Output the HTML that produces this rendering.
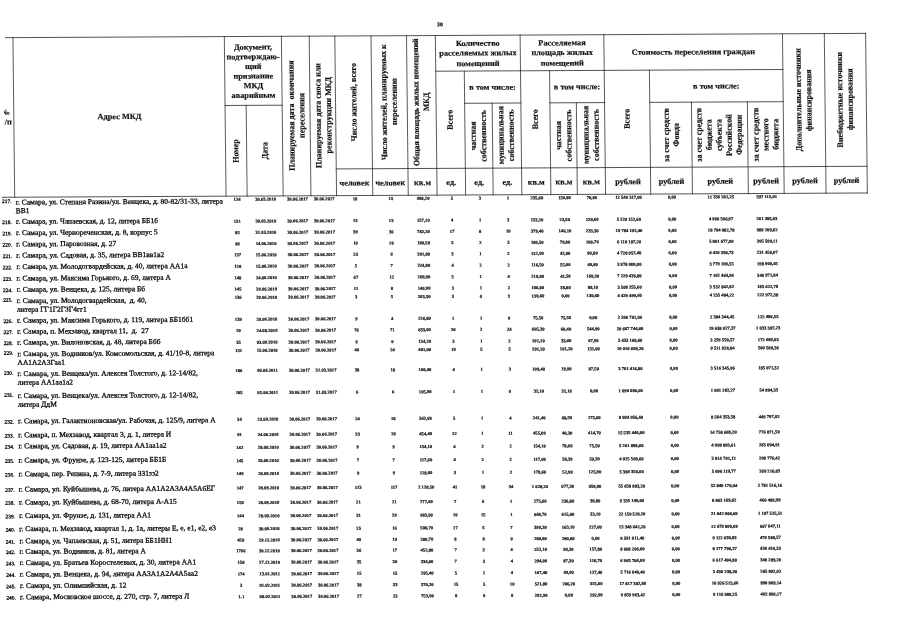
<!DOCTYPE html>
<html lang="ru"><head><meta charset="utf-8"><title>Таблица</title>
<style>
html,body{margin:0;padding:0;background:#fff;}
body{width:905px;height:640px;overflow:hidden;position:relative;font-family:"Liberation Serif",serif;color:#111;}
#pg{position:absolute;left:0;top:0;width:905px;height:640px;transform-origin:0 0;transform:matrix(1,-0.005,0.0105,0.965,0,0);filter:grayscale(1);}
#pg div{position:absolute;left:0;top:0;}
.ln{}
.hc{display:flex;align-items:center;justify-content:center;text-align:center;font-weight:bold;font-size:8.3px;line-height:9.95px;white-space:nowrap;-webkit-text-stroke:0.2px #111;}
#pg .rt{position:static;writing-mode:vertical-rl;transform:rotate(180deg);line-height:10.3px;text-align:center;white-space:nowrap;}
.np{overflow:hidden;}
#pg .npi{transform:translate(-6.3px,7.1px);width:16px;text-align:center;font-weight:bold;font-size:8.3px;line-height:10.2px;-webkit-text-stroke:0.15px #111;}
.pg{font-size:5.8px;line-height:6px;text-align:center;font-weight:bold;-webkit-text-stroke:0.25px #0a0a0a;}
.ad{font-size:7.5px;line-height:9.482px;white-space:nowrap;-webkit-text-stroke:0.3px #0a0a0a;}
.lb{font-size:5.4px;line-height:6.5px;width:10px;text-align:center;white-space:nowrap;-webkit-text-stroke:0.3px #0a0a0a;}
.nm{font-size:4.65px;line-height:6.0px;text-align:center;white-space:nowrap;font-weight:bold;-webkit-text-stroke:0.2px #0a0a0a;}
</style></head>
<body>
<div id="pg">
<svg width="905" height="700" viewBox="0 0 905 700" style="position:absolute;left:0;top:0;overflow:visible" stroke="#151515" stroke-linecap="square" fill="none">
<line x1="5.00" y1="39.07" x2="865.20" y2="39.07" stroke-width="0.746"/>
<line x1="0.20" y1="204.46" x2="865.20" y2="204.46" stroke-width="0.746"/>
<line x1="434.95" y1="76.06" x2="782.05" y2="76.06" stroke-width="0.746"/>
<line x1="463.50" y1="109.43" x2="519.70" y2="109.43" stroke-width="0.746"/>
<line x1="548.75" y1="109.43" x2="603.40" y2="109.43" stroke-width="0.746"/>
<line x1="648.60" y1="109.43" x2="782.05" y2="109.43" stroke-width="0.746"/>
<line x1="223.90" y1="110.47" x2="281.00" y2="110.47" stroke-width="0.746"/>
<line x1="334.40" y1="176.79" x2="865.20" y2="176.79" stroke-width="0.746"/>
<line x1="12.55" y1="39.07" x2="12.55" y2="204.46" stroke-width="0.720"/>
<line x1="223.90" y1="39.07" x2="223.90" y2="204.46" stroke-width="0.720"/>
<line x1="281.00" y1="39.07" x2="281.00" y2="204.46" stroke-width="0.720"/>
<line x1="308.80" y1="39.07" x2="308.80" y2="204.46" stroke-width="0.720"/>
<line x1="334.40" y1="39.07" x2="334.40" y2="204.46" stroke-width="0.720"/>
<line x1="370.60" y1="39.07" x2="370.60" y2="204.46" stroke-width="0.720"/>
<line x1="406.10" y1="39.07" x2="406.10" y2="204.46" stroke-width="0.720"/>
<line x1="434.95" y1="39.07" x2="434.95" y2="204.46" stroke-width="0.720"/>
<line x1="519.70" y1="39.07" x2="519.70" y2="204.46" stroke-width="0.720"/>
<line x1="603.40" y1="39.07" x2="603.40" y2="204.46" stroke-width="0.720"/>
<line x1="782.05" y1="39.07" x2="782.05" y2="204.46" stroke-width="0.720"/>
<line x1="823.90" y1="39.07" x2="823.90" y2="204.46" stroke-width="0.720"/>
<line x1="865.20" y1="39.07" x2="865.20" y2="204.46" stroke-width="0.720"/>
<line x1="245.00" y1="110.47" x2="245.00" y2="204.46" stroke-width="0.720"/>
<line x1="463.50" y1="76.06" x2="463.50" y2="204.46" stroke-width="0.720"/>
<line x1="548.75" y1="76.06" x2="548.75" y2="204.46" stroke-width="0.720"/>
<line x1="648.60" y1="76.06" x2="648.60" y2="204.46" stroke-width="0.720"/>
<line x1="491.00" y1="109.43" x2="491.00" y2="204.46" stroke-width="0.720"/>
<line x1="575.20" y1="109.43" x2="575.20" y2="204.46" stroke-width="0.720"/>
<line x1="690.30" y1="109.43" x2="690.30" y2="204.46" stroke-width="0.720"/>
<line x1="746.20" y1="109.43" x2="746.20" y2="204.46" stroke-width="0.720"/>
</svg>
<div class="np" style="transform:translate(2.75px,105px);width:9.5px;height:32px"><div class="npi">№<br>п/п</div></div>
<div class="hc" style="transform:translate(12.55px,39.07px);width:211.35px;height:165.39px;">Адрес МКД</div>
<div class="hc" style="transform:translate(223.90px,39.77px);width:57.10px;height:71.40px;line-height:9.97px;">Документ,<br>подтверждаю-<br>щий<br>признание<br>МКД<br>аварийным</div>
<div class="hc" style="transform:translate(224.70px,110.47px);width:21.10px;height:93.99px;"><div class="rt">Номер</div></div>
<div class="hc" style="transform:translate(245.80px,110.47px);width:36.00px;height:93.99px;"><div class="rt">Дата</div></div>
<div class="hc" style="transform:translate(281.80px,39.07px);width:27.80px;height:165.39px;"><div class="rt">Планируемая дата&nbsp; окончания<br>переселения</div></div>
<div class="hc" style="transform:translate(309.60px,39.07px);width:25.60px;height:165.39px;"><div class="rt">Планируемая дата сноса или<br>реконструкции МКД</div></div>
<div class="hc" style="transform:translate(335.20px,39.07px);width:36.20px;height:137.72px;"><div class="rt">Число жителей, всего</div></div>
<div class="hc" style="transform:translate(371.40px,39.07px);width:35.50px;height:137.72px;"><div class="rt">Число жителей, планируемых к<br>переселению</div></div>
<div class="hc" style="transform:translate(406.50px,39.07px);width:28.85px;height:137.72px;"><div class="rt" style="font-size:8.15px;">Общая площадь жилых помещений<br>МКД</div></div>
<div class="hc" style="transform:translate(434.95px,39.97px);width:84.75px;height:36.99px;line-height:10.16px;">Количество<br>расселяемых жилых<br>помещений</div>
<div class="hc" style="transform:translate(519.70px,39.97px);width:83.70px;height:36.99px;line-height:10.16px;">Расселяемая<br>площадь жилых<br>помещений</div>
<div class="hc" style="transform:translate(603.40px,39.07px);width:178.65px;height:36.99px;">Стоимость переселения граждан</div>
<div class="hc" style="transform:translate(435.35px,76.06px);width:28.55px;height:100.73px;"><div class="rt">Всего</div></div>
<div class="hc" style="transform:translate(463.50px,76.56px);width:56.20px;height:33.37px;">в том числе:</div>
<div class="hc" style="transform:translate(464.30px,109.43px);width:27.50px;height:67.36px;"><div class="rt">частная<br>собственность</div></div>
<div class="hc" style="transform:translate(491.00px,109.43px);width:28.70px;height:67.36px;"><div class="rt">муниципальная<br>собственность</div></div>
<div class="hc" style="transform:translate(520.50px,76.06px);width:29.05px;height:100.73px;"><div class="rt">Всего</div></div>
<div class="hc" style="transform:translate(548.75px,76.56px);width:54.65px;height:33.37px;">в том числе:</div>
<div class="hc" style="transform:translate(549.55px,109.43px);width:26.45px;height:67.36px;"><div class="rt">частная<br>собственность</div></div>
<div class="hc" style="transform:translate(576.00px,109.43px);width:28.20px;height:67.36px;"><div class="rt">муниципальная<br>собственность</div></div>
<div class="hc" style="transform:translate(604.20px,76.06px);width:45.20px;height:100.73px;"><div class="rt">Всего</div></div>
<div class="hc" style="transform:translate(648.60px,76.56px);width:133.45px;height:33.37px;">в том числе:</div>
<div class="hc" style="transform:translate(649.40px,109.43px);width:41.70px;height:67.36px;"><div class="rt" style="line-height:10.0px;">за счет средств<br>Фонда</div></div>
<div class="hc" style="transform:translate(690.10px,109.43px);width:55.90px;height:67.36px;"><div class="rt" style="line-height:10.05px;">за счет средств<br>бюджета<br>субъекта<br>Российской<br>Федерации</div></div>
<div class="hc" style="transform:translate(747.00px,109.43px);width:35.85px;height:67.36px;"><div class="rt" style="line-height:9.9px;">за счет средств<br>местного<br>бюджета</div></div>
<div class="hc" style="transform:translate(781.95px,39.07px);width:41.85px;height:137.72px;"><div class="rt">Дополнительные источники<br>финансирования</div></div>
<div class="hc" style="transform:translate(824.30px,39.07px);width:41.30px;height:137.72px;"><div class="rt">Внебюджетные источники<br>финансирования</div></div>
<div class="hc" style="transform:translate(334.40px,178.13px);width:36.20px;height:27.67px;">человек</div>
<div class="hc" style="transform:translate(370.60px,178.13px);width:35.50px;height:27.67px;">человек</div>
<div class="hc" style="transform:translate(406.10px,178.13px);width:28.85px;height:27.67px;">кв.м</div>
<div class="hc" style="transform:translate(434.95px,178.13px);width:28.55px;height:27.67px;">ед.</div>
<div class="hc" style="transform:translate(463.50px,178.13px);width:27.50px;height:27.67px;">ед.</div>
<div class="hc" style="transform:translate(491.00px,178.13px);width:28.70px;height:27.67px;">ед.</div>
<div class="hc" style="transform:translate(519.70px,178.13px);width:29.05px;height:27.67px;">кв.м</div>
<div class="hc" style="transform:translate(548.75px,178.13px);width:26.45px;height:27.67px;">кв.м</div>
<div class="hc" style="transform:translate(575.20px,178.13px);width:28.20px;height:27.67px;">кв.м</div>
<div class="hc" style="transform:translate(603.40px,178.13px);width:45.20px;height:27.67px;">рублей</div>
<div class="hc" style="transform:translate(648.60px,178.13px);width:41.70px;height:27.67px;">рублей</div>
<div class="hc" style="transform:translate(690.30px,178.13px);width:55.90px;height:27.67px;">рублей</div>
<div class="hc" style="transform:translate(746.20px,178.13px);width:35.85px;height:27.67px;">рублей</div>
<div class="hc" style="transform:translate(782.05px,178.13px);width:41.85px;height:27.67px;">рублей</div>
<div class="hc" style="transform:translate(823.90px,178.13px);width:41.30px;height:27.67px;">рублей</div>
<div class="pg" style="transform:translate(433.6px,24.46px);width:12px">30</div>
<div class="ad" style="transform:translate(13.5px,204.93px)">г. Самара, ул. Степана Разина/ул. Венцека, д. 80-82/31-33, литера<br>ВВ1</div>
<div class="lb" style="transform:translate(-0.4px,205.48px)">217.</div>
<div class="nm" style="transform:translate(224.30px,205.25px);width:21.10px">124</div>
<div class="nm" style="transform:translate(245.40px,205.25px);width:36.00px">30.03.2010</div>
<div class="nm" style="transform:translate(281.40px,205.25px);width:27.80px">30.06.2017</div>
<div class="nm" style="transform:translate(309.20px,205.25px);width:25.60px">30.06.2017</div>
<div class="nm" style="transform:translate(334.80px,205.25px);width:36.20px">18</div>
<div class="nm" style="transform:translate(371.00px,205.25px);width:35.50px">15</div>
<div class="nm" style="transform:translate(406.50px,205.25px);width:28.85px">498,10</div>
<div class="nm" style="transform:translate(435.35px,205.25px);width:28.55px">5</div>
<div class="nm" style="transform:translate(463.90px,205.25px);width:27.50px">3</div>
<div class="nm" style="transform:translate(491.40px,205.25px);width:28.70px">1</div>
<div class="nm" style="transform:translate(520.10px,205.25px);width:29.05px">235,60</div>
<div class="nm" style="transform:translate(549.15px,205.25px);width:26.45px">156,80</div>
<div class="nm" style="transform:translate(575.60px,205.25px);width:28.20px">78,80</div>
<div class="nm" style="transform:translate(603.80px,205.25px);width:45.20px">12 549 317,00</div>
<div class="nm" style="transform:translate(649.00px,205.25px);width:41.70px">0,00</div>
<div class="nm" style="transform:translate(690.70px,205.25px);width:55.90px">11 336 201,25</div>
<div class="nm" style="transform:translate(746.60px,205.25px);width:35.85px">597 115,01</div>
<div class="ad" style="transform:translate(13.5px,224.93px)">г. Самара, ул. Чапаевская, д. 12, литера ББ1б</div>
<div class="lb" style="transform:translate(-0.4px,227.13px)">218.</div>
<div class="nm" style="transform:translate(224.30px,227.94px);width:21.10px">131</div>
<div class="nm" style="transform:translate(245.40px,227.94px);width:36.00px">30.03.2010</div>
<div class="nm" style="transform:translate(281.40px,227.94px);width:27.80px">30.06.2017</div>
<div class="nm" style="transform:translate(309.20px,227.94px);width:25.60px">30.06.2017</div>
<div class="nm" style="transform:translate(334.80px,227.94px);width:36.20px">13</div>
<div class="nm" style="transform:translate(371.00px,227.94px);width:35.50px">13</div>
<div class="nm" style="transform:translate(406.50px,227.94px);width:28.85px">157,10</div>
<div class="nm" style="transform:translate(435.35px,227.94px);width:28.55px">4</div>
<div class="nm" style="transform:translate(463.90px,227.94px);width:27.50px">1</div>
<div class="nm" style="transform:translate(491.40px,227.94px);width:28.70px">3</div>
<div class="nm" style="transform:translate(520.10px,227.94px);width:29.05px">153,10</div>
<div class="nm" style="transform:translate(549.15px,227.94px);width:26.45px">23,50</div>
<div class="nm" style="transform:translate(575.60px,227.94px);width:28.20px">129,60</div>
<div class="nm" style="transform:translate(603.80px,227.94px);width:45.20px">5 229 152,60</div>
<div class="nm" style="transform:translate(649.00px,227.94px);width:41.70px">0,00</div>
<div class="nm" style="transform:translate(690.70px,227.94px);width:55.90px">4 966 566,97</div>
<div class="nm" style="transform:translate(746.60px,227.94px);width:35.85px">261 385,63</div>
<div class="ad" style="transform:translate(13.5px,236.64px)">г. Самара, ул. Чернореченская, д. 8, корпус 5</div>
<div class="lb" style="transform:translate(-0.4px,238.84px)">219.</div>
<div class="nm" style="transform:translate(224.30px,239.65px);width:21.10px">85</div>
<div class="nm" style="transform:translate(245.40px,239.65px);width:36.00px">31.03.2010</div>
<div class="nm" style="transform:translate(281.40px,239.65px);width:27.80px">30.06.2017</div>
<div class="nm" style="transform:translate(309.20px,239.65px);width:25.60px">30.06.2017</div>
<div class="nm" style="transform:translate(334.80px,239.65px);width:36.20px">39</div>
<div class="nm" style="transform:translate(371.00px,239.65px);width:35.50px">36</div>
<div class="nm" style="transform:translate(406.50px,239.65px);width:28.85px">782,20</div>
<div class="nm" style="transform:translate(435.35px,239.65px);width:28.55px">17</div>
<div class="nm" style="transform:translate(463.90px,239.65px);width:27.50px">8</div>
<div class="nm" style="transform:translate(491.40px,239.65px);width:28.70px">10</div>
<div class="nm" style="transform:translate(520.10px,239.65px);width:29.05px">379,40</div>
<div class="nm" style="transform:translate(549.15px,239.65px);width:26.45px">146,10</div>
<div class="nm" style="transform:translate(575.60px,239.65px);width:28.20px">233,30</div>
<div class="nm" style="transform:translate(603.80px,239.65px);width:45.20px">19 784 192,40</div>
<div class="nm" style="transform:translate(649.00px,239.65px);width:41.70px">0,00</div>
<div class="nm" style="transform:translate(690.70px,239.65px);width:55.90px">18 794 982,78</div>
<div class="nm" style="transform:translate(746.60px,239.65px);width:35.85px">989 209,62</div>
<div class="ad" style="transform:translate(13.5px,248.35px)">г. Самара, ул. Паровозная, д. 27</div>
<div class="lb" style="transform:translate(-0.4px,250.55px)">220.</div>
<div class="nm" style="transform:translate(224.30px,251.26px);width:21.10px">86</div>
<div class="nm" style="transform:translate(245.40px,251.26px);width:36.00px">14.06.2010</div>
<div class="nm" style="transform:translate(281.40px,251.26px);width:27.80px">30.06.2017</div>
<div class="nm" style="transform:translate(309.20px,251.26px);width:25.60px">30.06.2017</div>
<div class="nm" style="transform:translate(334.80px,251.26px);width:36.20px">10</div>
<div class="nm" style="transform:translate(371.00px,251.26px);width:35.50px">10</div>
<div class="nm" style="transform:translate(406.50px,251.26px);width:28.85px">180,50</div>
<div class="nm" style="transform:translate(435.35px,251.26px);width:28.55px">5</div>
<div class="nm" style="transform:translate(463.90px,251.26px);width:27.50px">2</div>
<div class="nm" style="transform:translate(491.40px,251.26px);width:28.70px">3</div>
<div class="nm" style="transform:translate(520.10px,251.26px);width:29.05px">180,50</div>
<div class="nm" style="transform:translate(549.15px,251.26px);width:26.45px">70,80</div>
<div class="nm" style="transform:translate(575.60px,251.26px);width:28.20px">109,70</div>
<div class="nm" style="transform:translate(603.80px,251.26px);width:45.20px">6 110 187,20</div>
<div class="nm" style="transform:translate(649.00px,251.26px);width:41.70px">0,00</div>
<div class="nm" style="transform:translate(690.70px,251.26px);width:55.90px">5 801 677,09</div>
<div class="nm" style="transform:translate(746.60px,251.26px);width:35.85px">305 509,11</div>
<div class="ad" style="transform:translate(13.5px,260.06px)">г. Самара, ул. Садовая, д. 35, литера ВВ1вв1в2</div>
<div class="lb" style="transform:translate(-0.4px,262.26px)">221.</div>
<div class="nm" style="transform:translate(224.30px,262.87px);width:21.10px">137</div>
<div class="nm" style="transform:translate(245.40px,262.87px);width:36.00px">15.06.2010</div>
<div class="nm" style="transform:translate(281.40px,262.87px);width:27.80px">30.06.2017</div>
<div class="nm" style="transform:translate(309.20px,262.87px);width:25.60px">30.06.2017</div>
<div class="nm" style="transform:translate(334.80px,262.87px);width:36.20px">23</div>
<div class="nm" style="transform:translate(371.00px,262.87px);width:35.50px">6</div>
<div class="nm" style="transform:translate(406.50px,262.87px);width:28.85px">301,80</div>
<div class="nm" style="transform:translate(435.35px,262.87px);width:28.55px">3</div>
<div class="nm" style="transform:translate(463.90px,262.87px);width:27.50px">1</div>
<div class="nm" style="transform:translate(491.40px,262.87px);width:28.70px">2</div>
<div class="nm" style="transform:translate(520.10px,262.87px);width:29.05px">131,90</div>
<div class="nm" style="transform:translate(549.15px,262.87px);width:26.45px">42,00</div>
<div class="nm" style="transform:translate(575.60px,262.87px);width:28.20px">90,80</div>
<div class="nm" style="transform:translate(603.80px,262.87px);width:45.20px">4 728 957,40</div>
<div class="nm" style="transform:translate(649.00px,262.87px);width:41.70px">0,00</div>
<div class="nm" style="transform:translate(690.70px,262.87px);width:55.90px">4 410 396,73</div>
<div class="nm" style="transform:translate(746.60px,262.87px);width:35.85px">231 456,07</div>
<div class="ad" style="transform:translate(13.5px,271.77px)">г. Самара, ул. Молодогвардейская, д. 40, литера АА1а</div>
<div class="lb" style="transform:translate(-0.4px,273.97px)">222.</div>
<div class="nm" style="transform:translate(224.30px,274.68px);width:21.10px">128</div>
<div class="nm" style="transform:translate(245.40px,274.68px);width:36.00px">15.06.2010</div>
<div class="nm" style="transform:translate(281.40px,274.68px);width:27.80px">30.06.2017</div>
<div class="nm" style="transform:translate(309.20px,274.68px);width:25.60px">30.06.2017</div>
<div class="nm" style="transform:translate(334.80px,274.68px);width:36.20px">5</div>
<div class="nm" style="transform:translate(371.00px,274.68px);width:35.50px">7</div>
<div class="nm" style="transform:translate(406.50px,274.68px);width:28.85px">224,80</div>
<div class="nm" style="transform:translate(435.35px,274.68px);width:28.55px">4</div>
<div class="nm" style="transform:translate(463.90px,274.68px);width:27.50px">2</div>
<div class="nm" style="transform:translate(491.40px,274.68px);width:28.70px">2</div>
<div class="nm" style="transform:translate(520.10px,274.68px);width:29.05px">116,50</div>
<div class="nm" style="transform:translate(549.15px,274.68px);width:26.45px">55,00</div>
<div class="nm" style="transform:translate(575.60px,274.68px);width:28.20px">60,80</div>
<div class="nm" style="transform:translate(603.80px,274.68px);width:45.20px">3 978 009,00</div>
<div class="nm" style="transform:translate(649.00px,274.68px);width:41.70px">0,00</div>
<div class="nm" style="transform:translate(690.70px,274.68px);width:55.90px">3 779 108,55</div>
<div class="nm" style="transform:translate(746.60px,274.68px);width:35.85px">198 900,45</div>
<div class="ad" style="transform:translate(13.5px,283.79px)">г. Самара, ул. Максима Горького, д. 69, литера А</div>
<div class="lb" style="transform:translate(-0.4px,285.99px)">223.</div>
<div class="nm" style="transform:translate(224.30px,286.60px);width:21.10px">148</div>
<div class="nm" style="transform:translate(245.40px,286.60px);width:36.00px">24.06.2010</div>
<div class="nm" style="transform:translate(281.40px,286.60px);width:27.80px">30.06.2017</div>
<div class="nm" style="transform:translate(309.20px,286.60px);width:25.60px">30.06.2017</div>
<div class="nm" style="transform:translate(334.80px,286.60px);width:36.20px">67</div>
<div class="nm" style="transform:translate(371.00px,286.60px);width:35.50px">12</div>
<div class="nm" style="transform:translate(406.50px,286.60px);width:28.85px">209,90</div>
<div class="nm" style="transform:translate(435.35px,286.60px);width:28.55px">5</div>
<div class="nm" style="transform:translate(463.90px,286.60px);width:27.50px">1</div>
<div class="nm" style="transform:translate(491.40px,286.60px);width:28.70px">4</div>
<div class="nm" style="transform:translate(520.10px,286.60px);width:29.05px">210,80</div>
<div class="nm" style="transform:translate(549.15px,286.60px);width:26.45px">41,50</div>
<div class="nm" style="transform:translate(575.60px,286.60px);width:28.20px">169,30</div>
<div class="nm" style="transform:translate(603.80px,286.60px);width:45.20px">7 229 436,80</div>
<div class="nm" style="transform:translate(649.00px,286.60px);width:41.70px">0,00</div>
<div class="nm" style="transform:translate(690.70px,286.60px);width:55.90px">7 162 464,96</div>
<div class="nm" style="transform:translate(746.60px,286.60px);width:35.85px">346 971,84</div>
<div class="ad" style="transform:translate(13.5px,295.40px)">г. Самара, ул. Венцека, д. 125, литера Бб</div>
<div class="lb" style="transform:translate(-0.4px,297.60px)">224.</div>
<div class="nm" style="transform:translate(224.30px,298.31px);width:21.10px">145</div>
<div class="nm" style="transform:translate(245.40px,298.31px);width:36.00px">29.06.2010</div>
<div class="nm" style="transform:translate(281.40px,298.31px);width:27.80px">30.06.2017</div>
<div class="nm" style="transform:translate(309.20px,298.31px);width:25.60px">30.06.2017</div>
<div class="nm" style="transform:translate(334.80px,298.31px);width:36.20px">11</div>
<div class="nm" style="transform:translate(371.00px,298.31px);width:35.50px">8</div>
<div class="nm" style="transform:translate(406.50px,298.31px);width:28.85px">140,90</div>
<div class="nm" style="transform:translate(435.35px,298.31px);width:28.55px">3</div>
<div class="nm" style="transform:translate(463.90px,298.31px);width:27.50px">1</div>
<div class="nm" style="transform:translate(491.40px,298.31px);width:28.70px">2</div>
<div class="nm" style="transform:translate(520.10px,298.31px);width:29.05px">106,60</div>
<div class="nm" style="transform:translate(549.15px,298.31px);width:26.45px">30,80</div>
<div class="nm" style="transform:translate(575.60px,298.31px);width:28.20px">89,10</div>
<div class="nm" style="transform:translate(603.80px,298.31px);width:45.20px">3 508 255,60</div>
<div class="nm" style="transform:translate(649.00px,298.31px);width:41.70px">0,00</div>
<div class="nm" style="transform:translate(690.70px,298.31px);width:55.90px">3 332 842,82</div>
<div class="nm" style="transform:translate(746.60px,298.31px);width:35.85px">185 412,78</div>
<div class="ad" style="transform:translate(13.5px,307.11px)">г. Самара, ул. Молодогвардейская,&nbsp; д. 40,<br>литера ГГ1Г2Г3Г4гг1</div>
<div class="lb" style="transform:translate(-0.4px,307.65px)">225.</div>
<div class="nm" style="transform:translate(224.30px,306.91px);width:21.10px">136</div>
<div class="nm" style="transform:translate(245.40px,306.91px);width:36.00px">29.06.2010</div>
<div class="nm" style="transform:translate(281.40px,306.91px);width:27.80px">30.06.2017</div>
<div class="nm" style="transform:translate(309.20px,306.91px);width:25.60px">30.06.2017</div>
<div class="nm" style="transform:translate(334.80px,306.91px);width:36.20px">3</div>
<div class="nm" style="transform:translate(371.00px,306.91px);width:35.50px">5</div>
<div class="nm" style="transform:translate(406.50px,306.91px);width:28.85px">203,50</div>
<div class="nm" style="transform:translate(435.35px,306.91px);width:28.55px">3</div>
<div class="nm" style="transform:translate(463.90px,306.91px);width:27.50px">0</div>
<div class="nm" style="transform:translate(491.40px,306.91px);width:28.70px">3</div>
<div class="nm" style="transform:translate(520.10px,306.91px);width:29.05px">130,60</div>
<div class="nm" style="transform:translate(549.15px,306.91px);width:26.45px">0,00</div>
<div class="nm" style="transform:translate(575.60px,306.91px);width:28.20px">130,60</div>
<div class="nm" style="transform:translate(603.80px,306.91px);width:45.20px">4 429 499,60</div>
<div class="nm" style="transform:translate(649.00px,306.91px);width:41.70px">0,00</div>
<div class="nm" style="transform:translate(690.70px,306.91px);width:55.90px">4 235 484,22</div>
<div class="nm" style="transform:translate(746.60px,306.91px);width:35.85px">222 972,38</div>
<div class="ad" style="transform:translate(13.5px,327.42px)">г. Самара, ул. Максима Горького, д. 119, литера ББ1бб1</div>
<div class="lb" style="transform:translate(-0.4px,329.62px)">226.</div>
<div class="nm" style="transform:translate(224.30px,329.60px);width:21.10px">139</div>
<div class="nm" style="transform:translate(245.40px,329.60px);width:36.00px">29.06.2010</div>
<div class="nm" style="transform:translate(281.40px,329.60px);width:27.80px">30.06.2017</div>
<div class="nm" style="transform:translate(309.20px,329.60px);width:25.60px">30.06.2017</div>
<div class="nm" style="transform:translate(334.80px,329.60px);width:36.20px">9</div>
<div class="nm" style="transform:translate(371.00px,329.60px);width:35.50px">4</div>
<div class="nm" style="transform:translate(406.50px,329.60px);width:28.85px">126,80</div>
<div class="nm" style="transform:translate(435.35px,329.60px);width:28.55px">1</div>
<div class="nm" style="transform:translate(463.90px,329.60px);width:27.50px">1</div>
<div class="nm" style="transform:translate(491.40px,329.60px);width:28.70px">0</div>
<div class="nm" style="transform:translate(520.10px,329.60px);width:29.05px">75,50</div>
<div class="nm" style="transform:translate(549.15px,329.60px);width:26.45px">75,50</div>
<div class="nm" style="transform:translate(575.60px,329.60px);width:28.20px">0,00</div>
<div class="nm" style="transform:translate(603.80px,329.60px);width:45.20px">2 506 701,00</div>
<div class="nm" style="transform:translate(649.00px,329.60px);width:41.70px">0,00</div>
<div class="nm" style="transform:translate(690.70px,329.60px);width:55.90px">2 384 344,45</div>
<div class="nm" style="transform:translate(746.60px,329.60px);width:35.85px">122 486,55</div>
<div class="ad" style="transform:translate(13.5px,338.82px)">г. Самара, п. Мехзавод, квартал 11,&nbsp; д.&nbsp; 27</div>
<div class="lb" style="transform:translate(-0.4px,341.02px)">227.</div>
<div class="nm" style="transform:translate(224.30px,341.31px);width:21.10px">29</div>
<div class="nm" style="transform:translate(245.40px,341.31px);width:36.00px">24.08.2010</div>
<div class="nm" style="transform:translate(281.40px,341.31px);width:27.80px">30.06.2017</div>
<div class="nm" style="transform:translate(309.20px,341.31px);width:25.60px">30.06.2017</div>
<div class="nm" style="transform:translate(334.80px,341.31px);width:36.20px">76</div>
<div class="nm" style="transform:translate(371.00px,341.31px);width:35.50px">71</div>
<div class="nm" style="transform:translate(406.50px,341.31px);width:28.85px">633,00</div>
<div class="nm" style="transform:translate(435.35px,341.31px);width:28.55px">26</div>
<div class="nm" style="transform:translate(463.90px,341.31px);width:27.50px">2</div>
<div class="nm" style="transform:translate(491.40px,341.31px);width:28.70px">24</div>
<div class="nm" style="transform:translate(520.10px,341.31px);width:29.05px">605,30</div>
<div class="nm" style="transform:translate(549.15px,341.31px);width:26.45px">60,40</div>
<div class="nm" style="transform:translate(575.60px,341.31px);width:28.20px">544,90</div>
<div class="nm" style="transform:translate(603.80px,341.31px);width:45.20px">20 667 744,60</div>
<div class="nm" style="transform:translate(649.00px,341.31px);width:41.70px">0,00</div>
<div class="nm" style="transform:translate(690.70px,341.31px);width:55.90px">19 638 027,37</div>
<div class="nm" style="transform:translate(746.60px,341.31px);width:35.85px">1 033 387,23</div>
<div class="ad" style="transform:translate(13.5px,350.22px)">г. Самара, ул. Вилоновская, д. 48, литера Ббб</div>
<div class="lb" style="transform:translate(-0.4px,352.42px)">228.</div>
<div class="nm" style="transform:translate(224.30px,353.44px);width:21.10px">35</div>
<div class="nm" style="transform:translate(245.40px,353.44px);width:36.00px">03.09.2010</div>
<div class="nm" style="transform:translate(281.40px,353.44px);width:27.80px">30.06.2017</div>
<div class="nm" style="transform:translate(309.20px,353.44px);width:25.60px">30.06.2017</div>
<div class="nm" style="transform:translate(334.80px,353.44px);width:36.20px">6</div>
<div class="nm" style="transform:translate(371.00px,353.44px);width:35.50px">6</div>
<div class="nm" style="transform:translate(406.50px,353.44px);width:28.85px">134,20</div>
<div class="nm" style="transform:translate(435.35px,353.44px);width:28.55px">3</div>
<div class="nm" style="transform:translate(463.90px,353.44px);width:27.50px">1</div>
<div class="nm" style="transform:translate(491.40px,353.44px);width:28.70px">2</div>
<div class="nm" style="transform:translate(520.10px,353.44px);width:29.05px">101,10</div>
<div class="nm" style="transform:translate(549.15px,353.44px);width:26.45px">33,60</div>
<div class="nm" style="transform:translate(575.60px,353.44px);width:28.20px">67,50</div>
<div class="nm" style="transform:translate(603.80px,353.44px);width:45.20px">3 433 160,60</div>
<div class="nm" style="transform:translate(649.00px,353.44px);width:41.70px">0,00</div>
<div class="nm" style="transform:translate(690.70px,353.44px);width:55.90px">3 259 550,57</div>
<div class="nm" style="transform:translate(746.60px,353.44px);width:35.85px">172 609,03</div>
<div class="ad" style="transform:translate(13.5px,362.14px)">г. Самара, ул. Водников/ул. Комсомольская, д. 41/10-8, литера<br>АА1А2А3Гаа1</div>
<div class="lb" style="transform:translate(-0.4px,362.68px)">229.</div>
<div class="nm" style="transform:translate(224.30px,361.93px);width:21.10px">131</div>
<div class="nm" style="transform:translate(245.40px,361.93px);width:36.00px">15.06.2010</div>
<div class="nm" style="transform:translate(281.40px,361.93px);width:27.80px">30.06.2017</div>
<div class="nm" style="transform:translate(309.20px,361.93px);width:25.60px">30.06.2017</div>
<div class="nm" style="transform:translate(334.80px,361.93px);width:36.20px">40</div>
<div class="nm" style="transform:translate(371.00px,361.93px);width:35.50px">24</div>
<div class="nm" style="transform:translate(406.50px,361.93px);width:28.85px">401,00</div>
<div class="nm" style="transform:translate(435.35px,361.93px);width:28.55px">10</div>
<div class="nm" style="transform:translate(463.90px,361.93px);width:27.50px">5</div>
<div class="nm" style="transform:translate(491.40px,361.93px);width:28.70px">5</div>
<div class="nm" style="transform:translate(520.10px,361.93px);width:29.05px">291,20</div>
<div class="nm" style="transform:translate(549.15px,361.93px);width:26.45px">161,20</div>
<div class="nm" style="transform:translate(575.60px,361.93px);width:28.20px">131,00</div>
<div class="nm" style="transform:translate(603.80px,361.93px);width:45.20px">10 016 609,20</div>
<div class="nm" style="transform:translate(649.00px,361.93px);width:41.70px">0,00</div>
<div class="nm" style="transform:translate(690.70px,361.93px);width:55.90px">9 511 028,84</div>
<div class="nm" style="transform:translate(746.60px,361.93px);width:35.85px">500 580,36</div>
<div class="ad" style="transform:translate(13.5px,382.76px)">г. Самара, ул. Венцека/ул. Алексея Толстого, д. 12-14/82,<br>литера АА1аа1а2</div>
<div class="lb" style="transform:translate(-0.4px,383.30px)">230.</div>
<div class="nm" style="transform:translate(224.30px,382.66px);width:21.10px">186</div>
<div class="nm" style="transform:translate(245.40px,382.66px);width:36.00px">06.04.2011</div>
<div class="nm" style="transform:translate(281.40px,382.66px);width:27.80px">30.06.2017</div>
<div class="nm" style="transform:translate(309.20px,382.66px);width:25.60px">31.03.2017</div>
<div class="nm" style="transform:translate(334.80px,382.66px);width:36.20px">38</div>
<div class="nm" style="transform:translate(371.00px,382.66px);width:35.50px">18</div>
<div class="nm" style="transform:translate(406.50px,382.66px);width:28.85px">160,40</div>
<div class="nm" style="transform:translate(435.35px,382.66px);width:28.55px">4</div>
<div class="nm" style="transform:translate(463.90px,382.66px);width:27.50px">1</div>
<div class="nm" style="transform:translate(491.40px,382.66px);width:28.70px">3</div>
<div class="nm" style="transform:translate(520.10px,382.66px);width:29.05px">109,40</div>
<div class="nm" style="transform:translate(549.15px,382.66px);width:26.45px">19,90</div>
<div class="nm" style="transform:translate(575.60px,382.66px);width:28.20px">87,50</div>
<div class="nm" style="transform:translate(603.80px,382.66px);width:45.20px">3 701 416,80</div>
<div class="nm" style="transform:translate(649.00px,382.66px);width:41.70px">0,00</div>
<div class="nm" style="transform:translate(690.70px,382.66px);width:55.90px">3 516 345,96</div>
<div class="nm" style="transform:translate(746.60px,382.66px);width:35.85px">185 071,32</div>
<div class="ad" style="transform:translate(13.5px,405.56px)">г. Самара, ул. Венцека/ул. Алексея Толстого, д. 12-14/82,<br>литера ДдМ</div>
<div class="lb" style="transform:translate(-0.4px,406.10px)">231.</div>
<div class="nm" style="transform:translate(224.30px,405.56px);width:21.10px">185</div>
<div class="nm" style="transform:translate(245.40px,405.56px);width:36.00px">05.04.2011</div>
<div class="nm" style="transform:translate(281.40px,405.56px);width:27.80px">30.06.2017</div>
<div class="nm" style="transform:translate(309.20px,405.56px);width:25.60px">31.03.2017</div>
<div class="nm" style="transform:translate(334.80px,405.56px);width:36.20px">6</div>
<div class="nm" style="transform:translate(371.00px,405.56px);width:35.50px">6</div>
<div class="nm" style="transform:translate(406.50px,405.56px);width:28.85px">105,90</div>
<div class="nm" style="transform:translate(435.35px,405.56px);width:28.55px">1</div>
<div class="nm" style="transform:translate(463.90px,405.56px);width:27.50px">1</div>
<div class="nm" style="transform:translate(491.40px,405.56px);width:28.70px">0</div>
<div class="nm" style="transform:translate(520.10px,405.56px);width:29.05px">32,10</div>
<div class="nm" style="transform:translate(549.15px,405.56px);width:26.45px">32,10</div>
<div class="nm" style="transform:translate(575.60px,405.56px);width:28.20px">0,00</div>
<div class="nm" style="transform:translate(603.80px,405.56px);width:45.20px">1 096 086,60</div>
<div class="nm" style="transform:translate(649.00px,405.56px);width:41.70px">0,00</div>
<div class="nm" style="transform:translate(690.70px,405.56px);width:55.90px">1 041 282,27</div>
<div class="nm" style="transform:translate(746.60px,405.56px);width:35.85px">54 804,33</div>
<div class="ad" style="transform:translate(13.5px,431.67px)">г. Самара, ул. Галактионовская/ул. Рабочая, д. 125/9, литера А</div>
<div class="lb" style="transform:translate(-0.4px,433.87px)">232.</div>
<div class="nm" style="transform:translate(224.30px,433.23px);width:21.10px">34</div>
<div class="nm" style="transform:translate(245.40px,433.23px);width:36.00px">23.09.2010</div>
<div class="nm" style="transform:translate(281.40px,433.23px);width:27.80px">30.06.2017</div>
<div class="nm" style="transform:translate(309.20px,433.23px);width:25.60px">30.06.2017</div>
<div class="nm" style="transform:translate(334.80px,433.23px);width:36.20px">24</div>
<div class="nm" style="transform:translate(371.00px,433.23px);width:35.50px">18</div>
<div class="nm" style="transform:translate(406.50px,433.23px);width:28.85px">362,60</div>
<div class="nm" style="transform:translate(435.35px,433.23px);width:28.55px">5</div>
<div class="nm" style="transform:translate(463.90px,433.23px);width:27.50px">1</div>
<div class="nm" style="transform:translate(491.40px,433.23px);width:28.70px">4</div>
<div class="nm" style="transform:translate(520.10px,433.23px);width:29.05px">241,40</div>
<div class="nm" style="transform:translate(549.15px,433.23px);width:26.45px">68,50</div>
<div class="nm" style="transform:translate(575.60px,433.23px);width:28.20px">173,60</div>
<div class="nm" style="transform:translate(603.80px,433.23px);width:45.20px">8 994 956,40</div>
<div class="nm" style="transform:translate(649.00px,433.23px);width:41.70px">0,00</div>
<div class="nm" style="transform:translate(690.70px,433.23px);width:55.90px">8 564 353,58</div>
<div class="nm" style="transform:translate(746.60px,433.23px);width:35.85px">449 797,02</div>
<div class="ad" style="transform:translate(13.5px,446.18px)">г. Самара, п. Мехзавод, квартал 3, д. 1, литера И</div>
<div class="lb" style="transform:translate(-0.4px,448.38px)">233.</div>
<div class="nm" style="transform:translate(224.30px,449.08px);width:21.10px">91</div>
<div class="nm" style="transform:translate(245.40px,449.08px);width:36.00px">24.06.2010</div>
<div class="nm" style="transform:translate(281.40px,449.08px);width:27.80px">30.06.2017</div>
<div class="nm" style="transform:translate(309.20px,449.08px);width:25.60px">30.06.2017</div>
<div class="nm" style="transform:translate(334.80px,449.08px);width:36.20px">33</div>
<div class="nm" style="transform:translate(371.00px,449.08px);width:35.50px">29</div>
<div class="nm" style="transform:translate(406.50px,449.08px);width:28.85px">454,40</div>
<div class="nm" style="transform:translate(435.35px,449.08px);width:28.55px">12</div>
<div class="nm" style="transform:translate(463.90px,449.08px);width:27.50px">1</div>
<div class="nm" style="transform:translate(491.40px,449.08px);width:28.70px">11</div>
<div class="nm" style="transform:translate(520.10px,449.08px);width:29.05px">455,00</div>
<div class="nm" style="transform:translate(549.15px,449.08px);width:26.45px">40,30</div>
<div class="nm" style="transform:translate(575.60px,449.08px);width:28.20px">414,70</div>
<div class="nm" style="transform:translate(603.80px,449.08px);width:45.20px">15 535 440,00</div>
<div class="nm" style="transform:translate(649.00px,449.08px);width:41.70px">0,00</div>
<div class="nm" style="transform:translate(690.70px,449.08px);width:55.90px">14 758 668,20</div>
<div class="nm" style="transform:translate(746.60px,449.08px);width:35.85px">776 871,50</div>
<div class="ad" style="transform:translate(13.5px,457.68px)">г. Самара, ул. Садовая, д. 19, литера АА1аа1а2</div>
<div class="lb" style="transform:translate(-0.4px,459.88px)">234.</div>
<div class="nm" style="transform:translate(224.30px,462.45px);width:21.10px">142</div>
<div class="nm" style="transform:translate(245.40px,462.45px);width:36.00px">28.09.2010</div>
<div class="nm" style="transform:translate(281.40px,462.45px);width:27.80px">30.06.2017</div>
<div class="nm" style="transform:translate(309.20px,462.45px);width:25.60px">30.06.2017</div>
<div class="nm" style="transform:translate(334.80px,462.45px);width:36.20px">9</div>
<div class="nm" style="transform:translate(371.00px,462.45px);width:35.50px">9</div>
<div class="nm" style="transform:translate(406.50px,462.45px);width:28.85px">154,10</div>
<div class="nm" style="transform:translate(435.35px,462.45px);width:28.55px">4</div>
<div class="nm" style="transform:translate(463.90px,462.45px);width:27.50px">2</div>
<div class="nm" style="transform:translate(491.40px,462.45px);width:28.70px">2</div>
<div class="nm" style="transform:translate(520.10px,462.45px);width:29.05px">154,10</div>
<div class="nm" style="transform:translate(549.15px,462.45px);width:26.45px">78,60</div>
<div class="nm" style="transform:translate(575.60px,462.45px);width:28.20px">75,50</div>
<div class="nm" style="transform:translate(603.80px,462.45px);width:45.20px">5 261 898,60</div>
<div class="nm" style="transform:translate(649.00px,462.45px);width:41.70px">0,00</div>
<div class="nm" style="transform:translate(690.70px,462.45px);width:55.90px">4 998 803,61</div>
<div class="nm" style="transform:translate(746.60px,462.45px);width:35.85px">263 094,91</div>
<div class="ad" style="transform:translate(13.5px,472.29px)">г. Самара, ул. Фрунзе, д. 123-125, литера ББ1Б</div>
<div class="lb" style="transform:translate(-0.4px,474.49px)">235.</div>
<div class="nm" style="transform:translate(224.30px,476.13px);width:21.10px">145</div>
<div class="nm" style="transform:translate(245.40px,476.13px);width:36.00px">28.09.2010</div>
<div class="nm" style="transform:translate(281.40px,476.13px);width:27.80px">30.06.2017</div>
<div class="nm" style="transform:translate(309.20px,476.13px);width:25.60px">30.06.2017</div>
<div class="nm" style="transform:translate(334.80px,476.13px);width:36.20px">7</div>
<div class="nm" style="transform:translate(371.00px,476.13px);width:35.50px">7</div>
<div class="nm" style="transform:translate(406.50px,476.13px);width:28.85px">117,60</div>
<div class="nm" style="transform:translate(435.35px,476.13px);width:28.55px">4</div>
<div class="nm" style="transform:translate(463.90px,476.13px);width:27.50px">2</div>
<div class="nm" style="transform:translate(491.40px,476.13px);width:28.70px">2</div>
<div class="nm" style="transform:translate(520.10px,476.13px);width:29.05px">117,60</div>
<div class="nm" style="transform:translate(549.15px,476.13px);width:26.45px">58,30</div>
<div class="nm" style="transform:translate(575.60px,476.13px);width:28.20px">59,30</div>
<div class="nm" style="transform:translate(603.80px,476.13px);width:45.20px">4 015 569,60</div>
<div class="nm" style="transform:translate(649.00px,476.13px);width:41.70px">0,00</div>
<div class="nm" style="transform:translate(690.70px,476.13px);width:55.90px">3 814 791,12</div>
<div class="nm" style="transform:translate(746.60px,476.13px);width:35.85px">200 776,42</div>
<div class="ad" style="transform:translate(13.5px,486.59px)">г. Самара, пер. Репина, д. 7-9, литера ЗЗ1зз2</div>
<div class="lb" style="transform:translate(-0.4px,488.79px)">236.</div>
<div class="nm" style="transform:translate(224.30px,489.50px);width:21.10px">149</div>
<div class="nm" style="transform:translate(245.40px,489.50px);width:36.00px">28.09.2010</div>
<div class="nm" style="transform:translate(281.40px,489.50px);width:27.80px">30.06.2017</div>
<div class="nm" style="transform:translate(309.20px,489.50px);width:25.60px">30.06.2017</div>
<div class="nm" style="transform:translate(334.80px,489.50px);width:36.20px">9</div>
<div class="nm" style="transform:translate(371.00px,489.50px);width:35.50px">9</div>
<div class="nm" style="transform:translate(406.50px,489.50px);width:28.85px">118,60</div>
<div class="nm" style="transform:translate(435.35px,489.50px);width:28.55px">3</div>
<div class="nm" style="transform:translate(463.90px,489.50px);width:27.50px">1</div>
<div class="nm" style="transform:translate(491.40px,489.50px);width:28.70px">2</div>
<div class="nm" style="transform:translate(520.10px,489.50px);width:29.05px">178,60</div>
<div class="nm" style="transform:translate(549.15px,489.50px);width:26.45px">52,90</div>
<div class="nm" style="transform:translate(575.60px,489.50px);width:28.20px">125,90</div>
<div class="nm" style="transform:translate(603.80px,489.50px);width:45.20px">5 384 356,60</div>
<div class="nm" style="transform:translate(649.00px,489.50px);width:41.70px">0,00</div>
<div class="nm" style="transform:translate(690.70px,489.50px);width:55.90px">5 096 119,77</div>
<div class="nm" style="transform:translate(746.60px,489.50px);width:35.85px">269 216,83</div>
<div class="ad" style="transform:translate(13.5px,502.45px)">г. Самара, ул. Куйбышева, д. 76, литера АА1А2А3А4А5А6ЕГ</div>
<div class="lb" style="transform:translate(-0.4px,504.65px)">237.</div>
<div class="nm" style="transform:translate(224.30px,504.42px);width:21.10px">147</div>
<div class="nm" style="transform:translate(245.40px,504.42px);width:36.00px">28.09.2010</div>
<div class="nm" style="transform:translate(281.40px,504.42px);width:27.80px">30.06.2017</div>
<div class="nm" style="transform:translate(309.20px,504.42px);width:25.60px">30.06.2017</div>
<div class="nm" style="transform:translate(334.80px,504.42px);width:36.20px">113</div>
<div class="nm" style="transform:translate(371.00px,504.42px);width:35.50px">117</div>
<div class="nm" style="transform:translate(406.50px,504.42px);width:28.85px">2 120,50</div>
<div class="nm" style="transform:translate(435.35px,504.42px);width:28.55px">41</div>
<div class="nm" style="transform:translate(463.90px,504.42px);width:27.50px">18</div>
<div class="nm" style="transform:translate(491.40px,504.42px);width:28.70px">34</div>
<div class="nm" style="transform:translate(520.10px,504.42px);width:29.05px">1 628,20</div>
<div class="nm" style="transform:translate(549.15px,504.42px);width:26.45px">677,30</div>
<div class="nm" style="transform:translate(575.60px,504.42px);width:28.20px">950,90</div>
<div class="nm" style="transform:translate(603.80px,504.42px);width:45.20px">55 658 883,20</div>
<div class="nm" style="transform:translate(649.00px,504.42px);width:41.70px">0,00</div>
<div class="nm" style="transform:translate(690.70px,504.42px);width:55.90px">52 849 170,04</div>
<div class="nm" style="transform:translate(746.60px,504.42px);width:35.85px">2 781 516,16</div>
<div class="ad" style="transform:translate(13.5px,515.92px)">г. Самара, ул. Куйбышева, д. 68-70, литера А-А15</div>
<div class="lb" style="transform:translate(-0.4px,518.12px)">238.</div>
<div class="nm" style="transform:translate(224.30px,519.55px);width:21.10px">150</div>
<div class="nm" style="transform:translate(245.40px,519.55px);width:36.00px">28.09.2010</div>
<div class="nm" style="transform:translate(281.40px,519.55px);width:27.80px">30.06.2017</div>
<div class="nm" style="transform:translate(309.20px,519.55px);width:25.60px">30.06.2017</div>
<div class="nm" style="transform:translate(334.80px,519.55px);width:36.20px">21</div>
<div class="nm" style="transform:translate(371.00px,519.55px);width:35.50px">21</div>
<div class="nm" style="transform:translate(406.50px,519.55px);width:28.85px">777,60</div>
<div class="nm" style="transform:translate(435.35px,519.55px);width:28.55px">7</div>
<div class="nm" style="transform:translate(463.90px,519.55px);width:27.50px">6</div>
<div class="nm" style="transform:translate(491.40px,519.55px);width:28.70px">1</div>
<div class="nm" style="transform:translate(520.10px,519.55px);width:29.05px">275,60</div>
<div class="nm" style="transform:translate(549.15px,519.55px);width:26.45px">236,80</div>
<div class="nm" style="transform:translate(575.60px,519.55px);width:28.20px">39,80</div>
<div class="nm" style="transform:translate(603.80px,519.55px);width:45.20px">9 335 199,60</div>
<div class="nm" style="transform:translate(649.00px,519.55px);width:41.70px">0,00</div>
<div class="nm" style="transform:translate(690.70px,519.55px);width:55.90px">8 863 169,62</div>
<div class="nm" style="transform:translate(746.60px,519.55px);width:35.85px">466 489,98</div>
<div class="ad" style="transform:translate(13.5px,529.80px)">г. Самара, ул. Фрунзе, д. 131, литера АА1</div>
<div class="lb" style="transform:translate(-0.4px,532.00px)">239.</div>
<div class="nm" style="transform:translate(224.30px,533.33px);width:21.10px">144</div>
<div class="nm" style="transform:translate(245.40px,533.33px);width:36.00px">28.09.2010</div>
<div class="nm" style="transform:translate(281.40px,533.33px);width:27.80px">30.06.2017</div>
<div class="nm" style="transform:translate(309.20px,533.33px);width:25.60px">30.06.2017</div>
<div class="nm" style="transform:translate(334.80px,533.33px);width:36.20px">31</div>
<div class="nm" style="transform:translate(371.00px,533.33px);width:35.50px">29</div>
<div class="nm" style="transform:translate(406.50px,533.33px);width:28.85px">683,90</div>
<div class="nm" style="transform:translate(435.35px,533.33px);width:28.55px">16</div>
<div class="nm" style="transform:translate(463.90px,533.33px);width:27.50px">15</div>
<div class="nm" style="transform:translate(491.40px,533.33px);width:28.70px">1</div>
<div class="nm" style="transform:translate(520.10px,533.33px);width:29.05px">648,70</div>
<div class="nm" style="transform:translate(549.15px,533.33px);width:26.45px">615,60</div>
<div class="nm" style="transform:translate(575.60px,533.33px);width:28.20px">33,10</div>
<div class="nm" style="transform:translate(603.80px,533.33px);width:45.20px">22 150 510,20</div>
<div class="nm" style="transform:translate(649.00px,533.33px);width:41.70px">0,00</div>
<div class="nm" style="transform:translate(690.70px,533.33px);width:55.90px">21 042 984,69</div>
<div class="nm" style="transform:translate(746.60px,533.33px);width:35.85px">1 107 525,51</div>
<div class="ad" style="transform:translate(13.5px,543.48px)">г. Самара, п. Мехзавод, квартал 1, д. 1а, литеры Е, е, е1, е2, е3</div>
<div class="lb" style="transform:translate(-0.4px,545.68px)">240.</div>
<div class="nm" style="transform:translate(224.30px,546.70px);width:21.10px">28</div>
<div class="nm" style="transform:translate(245.40px,546.70px);width:36.00px">30.09.2010</div>
<div class="nm" style="transform:translate(281.40px,546.70px);width:27.80px">30.06.2017</div>
<div class="nm" style="transform:translate(309.20px,546.70px);width:25.60px">30.06.2017</div>
<div class="nm" style="transform:translate(334.80px,546.70px);width:36.20px">25</div>
<div class="nm" style="transform:translate(371.00px,546.70px);width:35.50px">16</div>
<div class="nm" style="transform:translate(406.50px,546.70px);width:28.85px">500,70</div>
<div class="nm" style="transform:translate(435.35px,546.70px);width:28.55px">17</div>
<div class="nm" style="transform:translate(463.90px,546.70px);width:27.50px">5</div>
<div class="nm" style="transform:translate(491.40px,546.70px);width:28.70px">7</div>
<div class="nm" style="transform:translate(520.10px,546.70px);width:29.05px">390,30</div>
<div class="nm" style="transform:translate(549.15px,546.70px);width:26.45px">163,10</div>
<div class="nm" style="transform:translate(575.60px,546.70px);width:28.20px">227,60</div>
<div class="nm" style="transform:translate(603.80px,546.70px);width:45.20px">13 348 642,20</div>
<div class="nm" style="transform:translate(649.00px,546.70px);width:41.70px">0,00</div>
<div class="nm" style="transform:translate(690.70px,546.70px);width:55.90px">12 679 890,09</div>
<div class="nm" style="transform:translate(746.60px,546.70px);width:35.85px">667 047,11</div>
<div class="ad" style="transform:translate(13.5px,556.13px)">г. Самара, ул. Чапаевская, д. 51, литера ББ1НН1</div>
<div class="lb" style="transform:translate(-0.4px,558.33px)">241.</div>
<div class="nm" style="transform:translate(224.30px,558.41px);width:21.10px">459</div>
<div class="nm" style="transform:translate(245.40px,558.41px);width:36.00px">29.12.2010</div>
<div class="nm" style="transform:translate(281.40px,558.41px);width:27.80px">30.06.2017</div>
<div class="nm" style="transform:translate(309.20px,558.41px);width:25.60px">30.06.2017</div>
<div class="nm" style="transform:translate(334.80px,558.41px);width:36.20px">49</div>
<div class="nm" style="transform:translate(371.00px,558.41px);width:35.50px">19</div>
<div class="nm" style="transform:translate(406.50px,558.41px);width:28.85px">280,70</div>
<div class="nm" style="transform:translate(435.35px,558.41px);width:28.55px">8</div>
<div class="nm" style="transform:translate(463.90px,558.41px);width:27.50px">8</div>
<div class="nm" style="transform:translate(491.40px,558.41px);width:28.70px">0</div>
<div class="nm" style="transform:translate(520.10px,558.41px);width:29.05px">280,80</div>
<div class="nm" style="transform:translate(549.15px,558.41px);width:26.45px">280,80</div>
<div class="nm" style="transform:translate(575.60px,558.41px);width:28.20px">0,00</div>
<div class="nm" style="transform:translate(603.80px,558.41px);width:45.20px">9 591 611,40</div>
<div class="nm" style="transform:translate(649.00px,558.41px);width:41.70px">0,00</div>
<div class="nm" style="transform:translate(690.70px,558.41px);width:55.90px">9 112 030,83</div>
<div class="nm" style="transform:translate(746.60px,558.41px);width:35.85px">479 580,57</div>
<div class="ad" style="transform:translate(13.5px,566.90px)">г. Самара, ул. Водников, д. 81, литера А</div>
<div class="lb" style="transform:translate(-0.4px,569.10px)">242.</div>
<div class="nm" style="transform:translate(224.30px,569.60px);width:21.10px">1766</div>
<div class="nm" style="transform:translate(245.40px,569.60px);width:36.00px">30.12.2010</div>
<div class="nm" style="transform:translate(281.40px,569.60px);width:27.80px">30.06.2017</div>
<div class="nm" style="transform:translate(309.20px,569.60px);width:25.60px">30.06.2017</div>
<div class="nm" style="transform:translate(334.80px,569.60px);width:36.20px">36</div>
<div class="nm" style="transform:translate(371.00px,569.60px);width:35.50px">17</div>
<div class="nm" style="transform:translate(406.50px,569.60px);width:28.85px">452,80</div>
<div class="nm" style="transform:translate(435.35px,569.60px);width:28.55px">7</div>
<div class="nm" style="transform:translate(463.90px,569.60px);width:27.50px">3</div>
<div class="nm" style="transform:translate(491.40px,569.60px);width:28.70px">4</div>
<div class="nm" style="transform:translate(520.10px,569.60px);width:29.05px">252,10</div>
<div class="nm" style="transform:translate(549.15px,569.60px);width:26.45px">94,30</div>
<div class="nm" style="transform:translate(575.60px,569.60px);width:28.20px">157,80</div>
<div class="nm" style="transform:translate(603.80px,569.60px);width:45.20px">8 608 206,60</div>
<div class="nm" style="transform:translate(649.00px,569.60px);width:41.70px">0,00</div>
<div class="nm" style="transform:translate(690.70px,569.60px);width:55.90px">8 177 796,27</div>
<div class="nm" style="transform:translate(746.60px,569.60px);width:35.85px">430 410,33</div>
<div class="ad" style="transform:translate(13.5px,578.66px)">г. Самара, ул. Братьев Коростелевых, д. 30, литера АА1</div>
<div class="lb" style="transform:translate(-0.4px,580.86px)">243.</div>
<div class="nm" style="transform:translate(224.30px,581.52px);width:21.10px">158</div>
<div class="nm" style="transform:translate(245.40px,581.52px);width:36.00px">27.12.2010</div>
<div class="nm" style="transform:translate(281.40px,581.52px);width:27.80px">30.06.2017</div>
<div class="nm" style="transform:translate(309.20px,581.52px);width:25.60px">30.06.2017</div>
<div class="nm" style="transform:translate(334.80px,581.52px);width:36.20px">35</div>
<div class="nm" style="transform:translate(371.00px,581.52px);width:35.50px">30</div>
<div class="nm" style="transform:translate(406.50px,581.52px);width:28.85px">334,60</div>
<div class="nm" style="transform:translate(435.35px,581.52px);width:28.55px">7</div>
<div class="nm" style="transform:translate(463.90px,581.52px);width:27.50px">3</div>
<div class="nm" style="transform:translate(491.40px,581.52px);width:28.70px">4</div>
<div class="nm" style="transform:translate(520.10px,581.52px);width:29.05px">204,00</div>
<div class="nm" style="transform:translate(549.15px,581.52px);width:26.45px">87,30</div>
<div class="nm" style="transform:translate(575.60px,581.52px);width:28.20px">116,70</div>
<div class="nm" style="transform:translate(603.80px,581.52px);width:45.20px">6 965 784,00</div>
<div class="nm" style="transform:translate(649.00px,581.52px);width:41.70px">0,00</div>
<div class="nm" style="transform:translate(690.70px,581.52px);width:55.90px">6 617 494,80</div>
<div class="nm" style="transform:translate(746.60px,581.52px);width:35.85px">348 289,20</div>
<div class="ad" style="transform:translate(13.5px,590.58px)">г. Самара, ул. Венцека, д. 94, литера АА3А1А2А4А5аа2</div>
<div class="lb" style="transform:translate(-0.4px,592.78px)">244.</div>
<div class="nm" style="transform:translate(224.30px,593.54px);width:21.10px">174</div>
<div class="nm" style="transform:translate(245.40px,593.54px);width:36.00px">13.01.2011</div>
<div class="nm" style="transform:translate(281.40px,593.54px);width:27.80px">30.06.2017</div>
<div class="nm" style="transform:translate(309.20px,593.54px);width:25.60px">30.06.2017</div>
<div class="nm" style="transform:translate(334.80px,593.54px);width:36.20px">15</div>
<div class="nm" style="transform:translate(371.00px,593.54px);width:35.50px">15</div>
<div class="nm" style="transform:translate(406.50px,593.54px);width:28.85px">295,40</div>
<div class="nm" style="transform:translate(435.35px,593.54px);width:28.55px">5</div>
<div class="nm" style="transform:translate(463.90px,593.54px);width:27.50px">1</div>
<div class="nm" style="transform:translate(491.40px,593.54px);width:28.70px">4</div>
<div class="nm" style="transform:translate(520.10px,593.54px);width:29.05px">167,40</div>
<div class="nm" style="transform:translate(549.15px,593.54px);width:26.45px">40,00</div>
<div class="nm" style="transform:translate(575.60px,593.54px);width:28.20px">127,40</div>
<div class="nm" style="transform:translate(603.80px,593.54px);width:45.20px">5 716 040,40</div>
<div class="nm" style="transform:translate(649.00px,593.54px);width:41.70px">0,00</div>
<div class="nm" style="transform:translate(690.70px,593.54px);width:55.90px">5 430 238,38</div>
<div class="nm" style="transform:translate(746.60px,593.54px);width:35.85px">285 802,02</div>
<div class="ad" style="transform:translate(13.5px,602.34px)">г. Самара, ул. Олимпийская, д. 12</div>
<div class="lb" style="transform:translate(-0.4px,604.54px)">245.</div>
<div class="nm" style="transform:translate(224.30px,605.35px);width:21.10px">3</div>
<div class="nm" style="transform:translate(245.40px,605.35px);width:36.00px">01.02.2011</div>
<div class="nm" style="transform:translate(281.40px,605.35px);width:27.80px">30.06.2017</div>
<div class="nm" style="transform:translate(309.20px,605.35px);width:25.60px">30.06.2017</div>
<div class="nm" style="transform:translate(334.80px,605.35px);width:36.20px">38</div>
<div class="nm" style="transform:translate(371.00px,605.35px);width:35.50px">33</div>
<div class="nm" style="transform:translate(406.50px,605.35px);width:28.85px">570,20</div>
<div class="nm" style="transform:translate(435.35px,605.35px);width:28.55px">15</div>
<div class="nm" style="transform:translate(463.90px,605.35px);width:27.50px">5</div>
<div class="nm" style="transform:translate(491.40px,605.35px);width:28.70px">10</div>
<div class="nm" style="transform:translate(520.10px,605.35px);width:29.05px">521,80</div>
<div class="nm" style="transform:translate(549.15px,605.35px);width:26.45px">206,20</div>
<div class="nm" style="transform:translate(575.60px,605.35px);width:28.20px">315,60</div>
<div class="nm" style="transform:translate(603.80px,605.35px);width:45.20px">17 817 382,80</div>
<div class="nm" style="transform:translate(649.00px,605.35px);width:41.70px">0,00</div>
<div class="nm" style="transform:translate(690.70px,605.35px);width:55.90px">16 926 513,66</div>
<div class="nm" style="transform:translate(746.60px,605.35px);width:35.85px">890 869,14</div>
<div class="ad" style="transform:translate(13.5px,614.05px)">г. Самара, Московское шоссе, д. 270, стр. 7, литера Л</div>
<div class="lb" style="transform:translate(-0.4px,616.25px)">246.</div>
<div class="nm" style="transform:translate(224.30px,617.06px);width:21.10px">1-1</div>
<div class="nm" style="transform:translate(245.40px,617.06px);width:36.00px">08.02.2011</div>
<div class="nm" style="transform:translate(281.40px,617.06px);width:27.80px">30.06.2017</div>
<div class="nm" style="transform:translate(309.20px,617.06px);width:25.60px">30.06.2017</div>
<div class="nm" style="transform:translate(334.80px,617.06px);width:36.20px">27</div>
<div class="nm" style="transform:translate(371.00px,617.06px);width:35.50px">23</div>
<div class="nm" style="transform:translate(406.50px,617.06px);width:28.85px">753,90</div>
<div class="nm" style="transform:translate(435.35px,617.06px);width:28.55px">8</div>
<div class="nm" style="transform:translate(463.90px,617.06px);width:27.50px">0</div>
<div class="nm" style="transform:translate(491.40px,617.06px);width:28.70px">8</div>
<div class="nm" style="transform:translate(520.10px,617.06px);width:29.05px">292,90</div>
<div class="nm" style="transform:translate(549.15px,617.06px);width:26.45px">0,00</div>
<div class="nm" style="transform:translate(575.60px,617.06px);width:28.20px">292,90</div>
<div class="nm" style="transform:translate(603.80px,617.06px);width:45.20px">9 859 963,42</div>
<div class="nm" style="transform:translate(649.00px,617.06px);width:41.70px">0,00</div>
<div class="nm" style="transform:translate(690.70px,617.06px);width:55.90px">9 116 989,25</div>
<div class="nm" style="transform:translate(746.60px,617.06px);width:35.85px">492 896,17</div>
</div>
</body></html>
